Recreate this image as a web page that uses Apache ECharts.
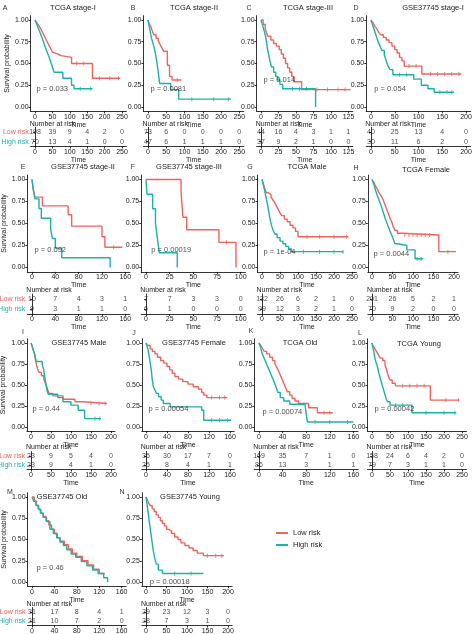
<!DOCTYPE html>
<html><head><meta charset="utf-8">
<script src="https://cdn.jsdelivr.net/npm/echarts@6/dist/echarts.min.js"></script>
<style>html,body{margin:0;padding:0;background:#fff}#c{width:474px;height:634px}</style>
</head><body><div id="c"></div>
<script>
// ---------------- DATA ----------------
const panelLetters = ['A','B','C','D','E','F','G','H','I','J','K','L','M','N'];
const panelTitles = ['TCGA stage-I','TCGA stage-II','TCGA stage-III','GSE37745 stage-I',
  'GSE37745 stage-II','GSE37745 stage-III','TCGA Male','TCGA Female',
  'GSE37745 Male','GSE37745 Female','TCGA Old','TCGA Young','GSE37745 Old','GSE37745 Young'];
const pValueLabels = ['p = 0.033','p = 0.0081','p = 0.014','p = 0.054','p = 0.092','p = 0.00019',
  'p = 1e-04','p = 0.0044','p = 0.44','p = 0.00054','p = 0.00074','p = 0.00042','p = 0.46','p = 0.00018'];
const groupNames = ['Low risk','High risk'];

const timeBreaks = [
  [0,50,100,150,200,250],[0,50,100,150,200,250],[0,25,50,75,100,125],[0,50,100,150,200],
  [0,40,80,120,160],[0,25,50,75,100],[0,50,100,150,200,250],[0,50,100,150,200],
  [0,50,100,150,200],[0,40,80,120,160],[0,40,80,120,160],[0,50,100,150,200,250],
  [0,40,80,120,160],[0,50,100,150,200]];

const atRiskLow = [
  [198,39,9,4,2,0],[73,6,0,0,0,0],[44,16,4,3,1,1],[40,25,13,4,0],
  [10,7,4,3,1],[7,7,3,3,0],[132,26,6,2,1,0],[201,26,5,2,1],
  [23,9,5,4,0],[35,30,17,7,0],[169,35,7,1,0],[158,24,6,4,2,0],
  [31,17,8,4,1],[29,23,12,3,0]];
const atRiskHigh = [
  [70,13,4,1,0,0],[47,6,1,1,1,0],[37,9,2,1,0,0],[30,11,6,2,0],
  [9,3,1,1,0],[6,1,0,0,0],[99,12,3,2,1,0],[70,9,2,0,0],
  [23,9,4,1,0],[25,8,4,1,1],[86,13,3,1,1],[79,7,3,1,1,0],
  [21,10,7,2,0],[28,7,3,1,0]];

// survival curves [time, probability]
const lowA = [[0,1],[5,0.97],[10,0.94],[15,0.91],[20,0.87],[25,0.83],[30,0.79],[35,0.75],[40,0.71],[45,0.67],[50,0.63],[55,0.61],[65,0.59],[75,0.57],[105,0.5],[165,0.33],[245,0.33]];
const highA = [[0,1],[5,0.95],[10,0.9],[15,0.85],[20,0.8],[25,0.74],[30,0.68],[35,0.63],[40,0.58],[45,0.52],[50,0.46],[55,0.4],[80,0.33],[105,0.25],[112,0.21],[165,0.21]];
const lowB = [[0,1],[3,0.96],[8,0.92],[12,0.87],[16,0.83],[22,0.79],[28,0.76],[33,0.72],[38,0.68],[43,0.64],[53,0.48],[59,0.35],[66,0.31],[91,0.31]];
const highB = [[0,1],[3,0.93],[6,0.87],[9,0.8],[13,0.74],[17,0.68],[21,0.6],[25,0.5],[28,0.4],[32,0.27],[62,0.2],[84,0.09],[227,0.09]];
const lowC = [[0,1],[3,0.95],[6,0.9],[8,0.85],[10,0.81],[14,0.77],[18,0.73],[22,0.7],[26,0.66],[29,0.61],[32,0.56],[35,0.5],[38,0.45],[41,0.4],[44,0.35],[47,0.29],[58,0.2],[128,0.2]];
const highC = [[0,1],[2,0.95],[4,0.89],[6,0.83],[8,0.75],[9,0.68],[11,0.6],[13,0.52],[15,0.46],[18,0.4],[21,0.35],[24,0.31],[27,0.26],[31,0.21],[78,0]];
const lowD = [[0,1],[4,0.97],[8,0.93],[12,0.9],[16,0.86],[20,0.83],[26,0.8],[32,0.77],[38,0.74],[44,0.7],[50,0.66],[55,0.62],[60,0.57],[65,0.53],[70,0.47],[107,0.38],[190,0.38]];
const highD = [[0,1],[3,0.95],[6,0.9],[9,0.85],[12,0.8],[15,0.75],[19,0.7],[23,0.65],[28,0.6],[32,0.53],[36,0.47],[40,0.43],[46,0.37],[90,0.32],[106,0.25],[120,0.21],[133,0.17],[175,0.17]];
const lowE = [[0,1],[2,0.9],[5,0.8],[18,0.7],[62,0.6],[68,0.47],[120,0.35],[125,0.23],[155,0.23]];
const highE = [[0,1],[2,0.89],[5,0.78],[12,0.67],[16,0.56],[32,0.44],[35,0.33],[40,0.22],[51,0.11],[134,0]];
const lowF = [[0,1],[37,0.857],[39,0.571],[43,0.429],[77,0.286],[95,0]];
const highF = [[0,1],[1,0.833],[7,0.667],[10,0.5],[12,0.333],[14,0.167],[33,0]];
const lowG = [[0,1],[3,0.96],[6,0.92],[9,0.88],[12,0.85],[18,0.83],[25,0.8],[30,0.77],[35,0.74],[40,0.7],[45,0.66],[50,0.62],[55,0.59],[62,0.55],[70,0.52],[78,0.48],[86,0.45],[93,0.41],[100,0.35],[240,0.35]];
const highG = [[0,1],[3,0.95],[6,0.9],[9,0.84],[12,0.78],[15,0.72],[18,0.65],[21,0.58],[24,0.52],[27,0.47],[31,0.42],[36,0.38],[42,0.34],[50,0.3],[58,0.27],[66,0.24],[74,0.21],[82,0.18],[226,0.18]];
const lowH = [[0,1],[4,0.97],[8,0.93],[12,0.9],[16,0.86],[20,0.83],[24,0.8],[28,0.76],[32,0.71],[36,0.66],[40,0.61],[44,0.56],[48,0.52],[52,0.46],[56,0.42],[62,0.39],[75,0.37],[163,0.18],[205,0.18]];
const highH = [[0,1],[4,0.95],[8,0.89],[12,0.83],[16,0.78],[20,0.73],[24,0.68],[28,0.62],[32,0.56],[36,0.51],[40,0.46],[44,0.41],[48,0.37],[52,0.32],[56,0.27],[62,0.25],[85,0.2],[105,0.1],[125,0.1]];
const lowI = [[0,1],[3,0.96],[6,0.91],[9,0.87],[12,0.78],[16,0.7],[20,0.65],[26,0.61],[32,0.57],[36,0.52],[40,0.47],[45,0.4],[55,0.37],[80,0.33],[110,0.3],[130,0.28],[190,0.28]];
const highI = [[0,1],[3,0.96],[6,0.91],[9,0.87],[13,0.78],[28,0.74],[31,0.7],[34,0.61],[37,0.52],[40,0.44],[43,0.39],[67,0.35],[80,0.3],[100,0.26],[118,0.2],[134,0.1],[175,0.1]];
const lowJ = [[0,1],[3,0.97],[8,0.93],[12,0.9],[17,0.87],[22,0.83],[28,0.79],[34,0.76],[40,0.72],[45,0.68],[50,0.64],[55,0.6],[62,0.57],[70,0.54],[80,0.51],[90,0.48],[100,0.45],[106,0.41],[110,0.38],[116,0.35],[155,0.35]];
const highJ = [[0,1],[2,0.96],[4,0.92],[6,0.84],[8,0.76],[10,0.68],[12,0.56],[14,0.48],[17,0.44],[20,0.4],[24,0.36],[29,0.32],[33,0.28],[46,0.24],[106,0.2],[110,0.08],[162,0.08]];
const lowK = [[0,1],[3,0.97],[6,0.93],[9,0.9],[13,0.87],[18,0.83],[23,0.79],[27,0.75],[30,0.71],[33,0.67],[36,0.62],[39,0.57],[42,0.52],[45,0.47],[48,0.42],[52,0.38],[56,0.34],[61,0.31],[67,0.28],[84,0.23],[99,0.17],[125,0.17]];
const highK = [[0,1],[3,0.94],[5,0.88],[8,0.83],[11,0.78],[14,0.73],[17,0.68],[20,0.63],[23,0.58],[26,0.53],[29,0.47],[32,0.41],[36,0.35],[42,0.31],[52,0.27],[78,0.25],[80,0.15],[82,0.06],[160,0.06]];
const lowL = [[0,1],[3,0.97],[7,0.94],[11,0.91],[15,0.88],[19,0.85],[23,0.82],[30,0.79],[36,0.74],[40,0.69],[43,0.64],[46,0.6],[50,0.56],[56,0.52],[65,0.49],[162,0.32],[243,0.32]];
const highL = [[0,1],[2,0.95],[5,0.9],[8,0.82],[11,0.77],[15,0.72],[19,0.64],[23,0.58],[27,0.52],[31,0.46],[35,0.4],[39,0.34],[43,0.3],[50,0.26],[111,0.17],[234,0.17]];
const lowM = [[0,1],[4,0.95],[8,0.9],[12,0.85],[16,0.81],[20,0.77],[25,0.72],[30,0.67],[35,0.62],[40,0.57],[45,0.52],[50,0.48],[58,0.44],[65,0.39],[72,0.34],[80,0.3],[90,0.25],[100,0.2],[110,0.15],[120,0.1],[130,0.1]];
const highM = [[0,1],[3,0.95],[7,0.9],[11,0.86],[15,0.81],[20,0.76],[26,0.71],[32,0.62],[38,0.57],[44,0.52],[50,0.47],[56,0.43],[62,0.38],[70,0.33],[78,0.29],[88,0.24],[98,0.19],[108,0.14],[118,0.1],[128,0.05],[135,0]];
const lowN = [[0,1],[3,0.97],[6,0.93],[10,0.9],[15,0.86],[20,0.83],[25,0.79],[30,0.76],[35,0.72],[40,0.69],[45,0.66],[50,0.62],[55,0.6],[62,0.57],[70,0.53],[78,0.5],[85,0.46],[95,0.43],[105,0.4],[115,0.37],[125,0.34],[140,0.31],[190,0.31]];
const highN = [[0,1],[2,0.93],[4,0.86],[6,0.79],[8,0.71],[10,0.64],[12,0.57],[14,0.5],[16,0.43],[18,0.36],[21,0.29],[25,0.21],[30,0.14],[40,0.1],[140,0.1]];

const lowCurves = [lowA,lowB,lowC,lowD,lowE,lowF,lowG,lowH,lowI,lowJ,lowK,lowL,lowM,lowN];
const highCurves = [highA,highB,highC,highD,highE,highF,highG,highH,highI,highJ,highK,highL,highM,highN];

// censoring times (marked with small ticks on the curves)
const censorLow = [[120,140,185,215,240],[80],[80,95,110,120],[80,95,125,140,155,170,185],[140],[85],[125,160,200,235],
  [80,90,100,110,120,130,140,185],[150,170,185],[125,140,150],[110,120],[85,105,125,145,205,240],[],[150,170,185]];
const censorHigh = [[130,160],[120,180,220],[45,55,65],[60,75,145,160,170],[],[],[115,160,200,225],
  [110,120],[160,172],[125,140,155],[95,120,150],[65,85,150,200,230],[],[70,110]];

// ---------------- LAYOUT ----------------
// [x pixel of t=0, px per time unit, axis max, row]
const kmLayout = [
  [35,.348,250,0],[148,.365,250,0],[261,.70,125,0],[371,.475,200,0],
  [32,.583,160,1],[146,.947,100,1],[262,.36,250,1],[372,.41,200,1],
  [31,.40,200,2],[146,.525,160,2],[259,.59,160,2],[372,.36,250,2],
  [32,.56,160,3],[146,.41,200,3]];
// [y of 1.00, y of 0.00, table top, table bottom, number-at-risk y]
const rowLayout = [[20,107,127.3,146.5,124],[179.5,267.5,294,314,290],[343,427,451.5,469.5,447],[497,582,607.5,625.5,604]];
const letterPos = [[5,8],[133,8],[249,8],[356,8],[23,167],[133,167],[250,167],[356,168],[23,332],[134,333],[251,331],[360,333],[10,492],[122,492]];
const titlePos = [[73,8],[194,8],[308,8],[433,8],[83,167],[189,167],[307,167],[426,170],[79,343],[194,343],[300,343],[419,344],[62,497],[190,497]];
const pPos = [[3,0.21],[5.5,0.21],[3,0.31],[6,0.21],[3.4,0.2],[5,0.2],[3,0.18],[2.5,0.15],[2.6,0.21],[4,0.21],[5,0.18],[5.5,0.21],[7,0.17],[8,0.0]];

const RED = '#F0645D', TEAL = '#1CB2A8', INK = '#1a1a1a';
const FONT = '"Liberation Sans", Arial, Helvetica, sans-serif';

const chart = echarts.init(document.getElementById('c'), null, {renderer:'canvas', width:474, height:634});
const grids = [], xAxes = [], yAxes = [], series = [], graphics = [];

function txt(x, y, text, size, align, color){
  return {type:'text', x:x, y:y, silent:true, style:{text:text, fontSize:size, fontFamily:FONT, fill:color||INK,
    align:align||'center', verticalAlign:'middle', textAlign:align||'center', textVerticalAlign:'middle'}};
}
function survAt(curve, t){
  let v = curve[0][1];
  for (const p of curve) { if (p[0] <= t) v = p[1]; else break; }
  return v;
}

for (let i = 0; i < 14; i++) {
  const [x0, s, R, row] = kmLayout[i];
  const [y1, y0, tt, tb, nary] = rowLayout[row];
  const left = x0 - 0.05*R*s, width = 1.1*R*s;
  const H = y0 - y1, top = y1 - 0.05*H, height = 1.1*H;
  const firstCol = (i % 4 === 0);
  const br = timeBreaks[i];
  grids.push({left:left, top:top, width:width, height:height, outerBoundsMode:'none', containLabel:false});
  grids.push({left:left, top:tt, width:width, height:tb-tt, outerBoundsMode:'none', containLabel:false});
  const g = 2*i;
  const lineStyle = {color:'#000', width:0.8};
  const xa = (gi) => ({gridIndex:gi, type:'value', min:-0.05*R, max:1.05*R,
    splitLine:{show:false},
    axisLine:{show:true, onZero:false, lineStyle:lineStyle},
    axisTick:{show:true, length:2, customValues:br, lineStyle:lineStyle},
    axisLabel:{customValues:br, fontSize:7, margin:2, color:INK, fontFamily:FONT},
    name:'Time', nameLocation:'middle', nameGap:8.5,
    nameTextStyle:{fontSize:7, color:INK, fontFamily:FONT}});
  xAxes.push(xa(g));
  xAxes.push(xa(g+1));
  yAxes.push({gridIndex:g, type:'value', min:-0.05, max:1.05,
    splitLine:{show:false},
    axisLine:{show:true, onZero:false, lineStyle:lineStyle},
    axisTick:{show:true, length:2, customValues:[0,0.25,0.5,0.75,1], lineStyle:lineStyle},
    axisLabel:{customValues:[0,0.25,0.5,0.75,1], fontSize:7, margin:2, color:INK, fontFamily:FONT,
      formatter:(v)=>Number(v).toFixed(2)},
    name: firstCol ? 'Survival probability' : '', nameLocation:'middle', nameGap:20, nameRotate:90,
    nameTextStyle:{fontSize:7, color:INK, fontFamily:FONT}});
  yAxes.push({gridIndex:g+1, type:'category', data:['High risk','Low risk'],
    axisLine:{show:true, lineStyle:lineStyle},
    axisTick:{show:true, length:2, alignWithLabel:true, interval:0, lineStyle:lineStyle},
    axisLabel:{show:firstCol, interval:0, fontSize:7, margin:2, fontFamily:FONT,
      color:(v)=> v === 'Low risk' ? RED : TEAL}});

  series.push({type:'line', name:groupNames[0], xAxisIndex:g, yAxisIndex:g, data:lowCurves[i], step:'end',
    showSymbol:false, symbol:'none', silent:true, lineStyle:{color:RED, width:1.4}, itemStyle:{color:RED}, z:3});
  series.push({type:'line', name:groupNames[1], xAxisIndex:g, yAxisIndex:g, data:highCurves[i], step:'end',
    showSymbol:false, symbol:'none', silent:true, lineStyle:{color:TEAL, width:1.4}, itemStyle:{color:TEAL}, z:4});
  series.push({type:'scatter', name:'cl'+i, xAxisIndex:g, yAxisIndex:g, silent:true, z:3,
    data:censorLow[i].map(t=>[t, survAt(lowCurves[i], t)]), symbol:'rect', symbolSize:[1,4], itemStyle:{color:RED}});
  series.push({type:'scatter', name:'ch'+i, xAxisIndex:g, yAxisIndex:g, silent:true, z:4,
    data:censorHigh[i].map(t=>[t, survAt(highCurves[i], t)]), symbol:'rect', symbolSize:[1,4], itemStyle:{color:TEAL}});
  series.push({type:'scatter', name:'pv'+i, xAxisIndex:g, yAxisIndex:g, data:[pPos[i]], symbolSize:1, silent:true,
    itemStyle:{color:'rgba(0,0,0,0)'}, z:5,
    label:{show:true, position:'right', distance:0, formatter:pValueLabels[i], fontSize:7.5, color:INK, fontFamily:FONT}});
  const riskData = br.map((t,k)=>[t,1,atRiskLow[i][k]]).concat(br.map((t,k)=>[t,0,atRiskHigh[i][k]]));
  series.push({type:'scatter', name:'risk'+i, xAxisIndex:g+1, yAxisIndex:g+1, data:riskData, symbolSize:1, silent:true,
    itemStyle:{color:'rgba(0,0,0,0)'},
    label:{show:true, position:'inside', formatter:(p)=>String(p.value[2]), fontSize:7, color:INK, fontFamily:FONT}});

  graphics.push(txt(letterPos[i][0], letterPos[i][1], panelLetters[i], 7, 'center', '#333'));
  graphics.push(txt(titlePos[i][0], titlePos[i][1], panelTitles[i], 7.5, 'center', INK));
  graphics.push(txt(left - 1, nary, 'Number at risk', 7, 'left', INK));
}

chart.setOption({
  animation:false,
  backgroundColor:'#fff',
  textStyle:{fontFamily:FONT},
  grid:grids, xAxis:xAxes, yAxis:yAxes, series:series, graphic:graphics,
  legend:{data:groupNames, orient:'vertical', left:271, top:524, icon:'rect', itemWidth:12, itemHeight:2,
    itemGap:4, selectedMode:false, textStyle:{fontSize:7.5, color:INK, fontFamily:FONT}}
});
</script></body></html>
